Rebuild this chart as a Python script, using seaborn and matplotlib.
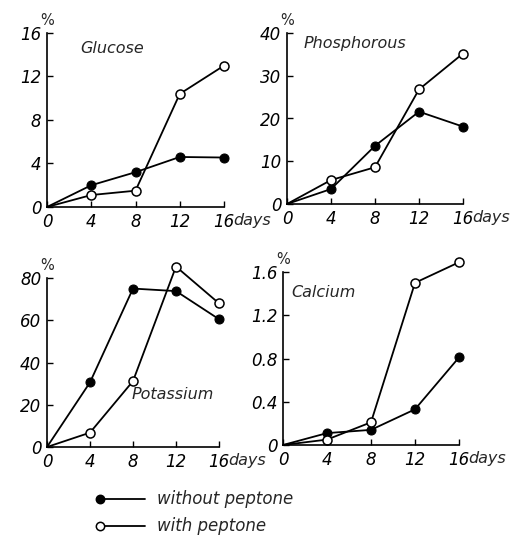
import matplotlib
matplotlib.use("Agg")
import matplotlib.pyplot as plt
import seaborn as sns
import pandas as pd
from matplotlib.lines import Line2D

days = [0, 4, 8, 12, 16]
day_ticks = [0, 4, 8, 12, 16]
day_tick_labels = ["0", "4", "8", "12", "16"]

glucose_without = [0, 2.0, 3.2, 4.6, 4.55]
glucose_with = [0, 1.1, 1.5, 10.4, 13.0]
phos_without = [0, 3.5, 13.6, 21.6, 18.1]
phos_with = [0, 5.6, 8.6, 26.8, 35.2]
potassium_without = [0, 30.6, 75.0, 73.8, 60.5]
potassium_with = [0, 6.8, 31.2, 85.4, 68.0]
calcium_without = [0, 0.11, 0.14, 0.33, 0.81]
calcium_with = [0, 0.05, 0.21, 1.50, 1.69]

glucose_ticks = [0, 4, 8, 12, 16]
glucose_labels = ["0", "4", "8", "12", "16"]
phos_ticks = [0, 10, 20, 30, 40]
phos_labels = ["0", "10", "20", "30", "40"]
potassium_ticks = [0, 20, 40, 60, 80]
potassium_labels = ["0", "20", "40", "60", "80"]
calcium_ticks = [0, 0.4, 0.8, 1.2, 1.6]
calcium_labels = ["0", "0.4", "0.8", "1.2", "1.6"]

sns.set_style("white")
plt.rcParams["font.family"] = ["DejaVu Sans"]

W, H = 517, 539
fig = plt.figure(figsize=(W / 100, H / 100), dpi=100)


def make_ax(x0, x1, y0, y1):
    # pixel coordinates (top-left origin): x0->x=0, x1->x=16, y0->y=0, y1->ytop
    return fig.add_axes([x0 / W, 1 - y0 / H, (x1 - x0) / W, (y0 - y1) / H])


panels = [
    dict(box=(47, 224, 207, 33), title="Glucose", tpos=(3.0, 0.91), without=glucose_without,
         withp=glucose_with, ticks=glucose_ticks, labels=glucose_labels, top=16),
    dict(box=(287, 463, 204, 33), title="Phosphorous", tpos=(1.5, 0.94), without=phos_without,
         withp=phos_with, ticks=phos_ticks, labels=phos_labels, top=40),
    dict(box=(47, 219, 447, 278), title="Potassium", tpos=(7.9, 0.31), without=potassium_without,
         withp=potassium_with, ticks=potassium_ticks, labels=potassium_labels, top=80),
    dict(box=(283, 459, 445, 272), title="Calcium", tpos=(0.8, 0.88), without=calcium_without,
         withp=calcium_with, ticks=calcium_ticks, labels=calcium_labels, top=1.6),
]

for p in panels:
    ax = make_ax(*p["box"])
    df = pd.DataFrame({
        "day": days * 2,
        "value": p["without"] + p["withp"],
        "series": ["without peptone"] * len(days) + ["with peptone"] * len(days),
    })
    sns.lineplot(data=df[df.series == "without peptone"], x="day", y="value", ax=ax,
                 color="black", lw=1.3, marker="o", markersize=6.5, markerfacecolor="black",
                 markeredgecolor="black", markevery=[1, 2, 3, 4], clip_on=False, legend=False)
    sns.lineplot(data=df[df.series == "with peptone"], x="day", y="value", ax=ax,
                 color="black", lw=1.3, marker="o", markersize=6.5, markerfacecolor="white",
                 markeredgecolor="black", markeredgewidth=1.1, markevery=[1, 2, 3, 4],
                 clip_on=False, legend=False)
    ax.set_xlim(0, 16)
    ax.set_ylim(0, p["top"])
    ax.set_xticks(day_ticks)
    ax.set_xticklabels(day_tick_labels)
    ax.set_yticks(p["ticks"])
    ax.set_yticklabels(p["labels"])
    ax.set_xlabel("")
    ax.set_ylabel("")
    for s in ["top", "right"]:
        ax.spines[s].set_visible(False)
    for s in ["left", "bottom"]:
        ax.spines[s].set_color("black")
        ax.spines[s].set_linewidth(1.2)
    ax.tick_params(direction="in", length=4, width=1, colors="black",
                   labelsize=12, pad=4, left=True, bottom=True)
    for lbl in ax.get_xticklabels() + ax.get_yticklabels():
        lbl.set_fontstyle("italic")
    ax.annotate("days", xy=(16, 0), xycoords=("data", "axes fraction"),
                xytext=(6.5, -4), textcoords="offset points",
                fontsize=11.5, fontstyle="italic", va="top", ha="left")
    ax.text(0, 1.03, "%", transform=ax.transAxes, fontsize=10.5, ha="center", va="bottom")
    ax.text(p["tpos"][0], p["tpos"][1], p["title"], transform=ax.get_xaxis_transform(),
            fontsize=11.5, fontstyle="italic", ha="left", va="center")
    ax.set_facecolor("none")

# legend drawn below
leg = fig.add_axes([0, 0, 1, 1])
leg.set_xlim(0, W)
leg.set_ylim(H, 0)
leg.axis("off")
rows = [(499, "black", "without peptone"), (526, "white", "with peptone")]
for y, fc, txt in rows:
    leg.add_line(Line2D([100, 145], [y, y], color="black", lw=1.3))
    leg.add_line(Line2D([100], [y], marker="o", markersize=6, markerfacecolor=fc,
                        markeredgecolor="black", markeredgewidth=1.1))
    leg.text(157, y, txt, fontsize=12, fontstyle="italic", va="center", ha="left")

fig.savefig("out.png", dpi=100)
